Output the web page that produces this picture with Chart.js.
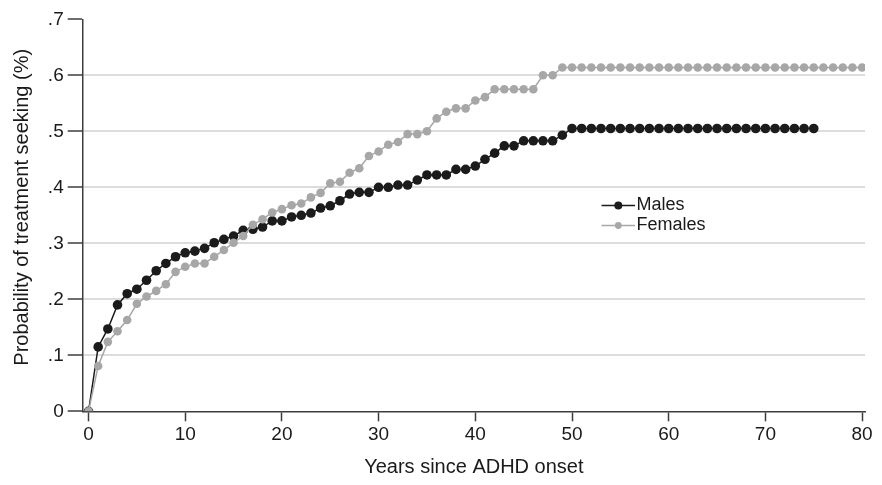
<!DOCTYPE html>
<html>
<head>
<meta charset="utf-8">
<script src="https://cdn.jsdelivr.net/npm/chart.js@4.4.1/dist/chart.umd.min.js"></script>
<style>
  html, body { margin: 0; padding: 0; background: #ffffff; }
  #wrap { width: 882px; height: 485px; position: relative; }
</style>
</head>
<body>
<div id="wrap"><canvas id="c" width="882" height="485"></canvas></div>
<script>
// ---- data ----
const years = [0,1,2,3,4,5,6,7,8,9,10,11,12,13,14,15,16,17,18,19,20,21,22,23,24,25,26,27,28,29,30,
  31,32,33,34,35,36,37,38,39,40,41,42,43,44,45,46,47,48,49,50,51,52,53,54,55,56,57,58,59,60,
  61,62,63,64,65,66,67,68,69,70,71,72,73,74,75,76,77,78,79,80];

const males = [0, .115, .147, .190, .210, .218, .234, .251, .264, .276, .283,
  .286, .291, .301, .307, .313, .323, .325, .329, .340, .340,
  .347, .350, .354, .363, .367, .376, .388, .391, .391, .400,
  .400, .404, .404, .413, .422, .422, .422, .432, .432, .438,
  .450, .461, .474, .474, .483, .483, .483, .483, .493, .505,
  .505, .505, .505, .505, .505, .505, .505, .505, .505, .505,
  .505, .505, .505, .505, .505, .505, .505, .505, .505, .505,
  .505, .505, .505, .505, .505];

const females = [0, .081, .124, .143, .163, .192, .205, .215, .227, .249, .258,
  .264, .264, .276, .288, .301, .313, .333, .343, .355, .361,
  .368, .371, .382, .390, .407, .410, .426, .434, .456, .464,
  .476, .481, .495, .495, .500, .523, .535, .541, .541, .555,
  .561, .575, .575, .575, .575, .575, .600, .600, .614, .614,
  .614, .614, .614, .614, .614, .614, .614, .614, .614, .614,
  .614, .614, .614, .614, .614, .614, .614, .614, .614, .614,
  .614, .614, .614, .614, .614, .614, .614, .614, .614, .614];

const seriesNames = ['Males', 'Females'];
const xTickValues = [0, 10, 20, 30, 40, 50, 60, 70, 80];
const xTickLabels = ['0', '10', '20', '30', '40', '50', '60', '70', '80'];
const yTickValues = [0, 0.1, 0.2, 0.3, 0.4, 0.5, 0.6, 0.7];
const yTickLabels = ['0', '.1', '.2', '.3', '.4', '.5', '.6', '.7'];
const xTitle = 'Years since ADHD onset';
const yTitle = 'Probability of treatment seeking (%)';

// ---- styles ----
const BLACK = '#1b1b1b';
const GREY = '#a7a7a7';
const AXIS = '#3c3c3c';
const GRID = '#dcdcdc';
const FONT = "'Liberation Sans', Arial, sans-serif";

const malePts = males.map((v, i) => ({ x: years[i], y: v }));
const femalePts = females.map((v, i) => ({ x: years[i], y: v }));

const legendPlugin = {
  id: 'inlineLegend',
  afterDraw(chart) {
    const ctx = chart.ctx;
    const items = [
      { ds: chart.data.datasets[1], y: 205.5 },
      { ds: chart.data.datasets[0], y: 225.5 }
    ];
    ctx.save();
    items.forEach(it => {
      const ds = it.ds;
      ctx.strokeStyle = ds.borderColor;
      ctx.lineWidth = 1.5;
      ctx.beginPath();
      ctx.moveTo(601.5, it.y);
      ctx.lineTo(635, it.y);
      ctx.stroke();
      ctx.fillStyle = ds.pointBackgroundColor;
      ctx.beginPath();
      ctx.arc(618.3, it.y, ds.label === 'Males' ? 4 : 3.4, 0, Math.PI * 2);
      ctx.fill();
      ctx.fillStyle = '#1a1a1a';
      ctx.font = '18px ' + FONT;
      ctx.textBaseline = 'middle';
      ctx.textAlign = 'left';
      ctx.fillText(ds.label, 636.5, it.y);
    });
    ctx.restore();
  }
};

// y-axis title drawn centred slightly above the plot middle, as in the reference
const yTitlePlugin = {
  id: 'yTitle',
  afterDraw(chart) {
    const ctx = chart.ctx;
    const area = chart.chartArea;
    ctx.save();
    ctx.translate(22, (area.top + area.bottom) / 2 - 8);
    ctx.rotate(-Math.PI / 2);
    ctx.fillStyle = '#1a1a1a';
    ctx.font = '20px ' + FONT;
    ctx.textAlign = 'center';
    ctx.textBaseline = 'middle';
    ctx.fillText(yTitle, 0, 0);
    ctx.restore();
  }
};

new Chart(document.getElementById('c'), {
  type: 'line',
  data: {
    datasets: [
      {
        label: seriesNames[1],
        data: femalePts,
        borderColor: GREY,
        backgroundColor: GREY,
        pointBackgroundColor: GREY,
        pointBorderColor: GREY,
        pointBorderWidth: 0,
        pointRadius: 4.3,
        borderWidth: 1.5,
        tension: 0,
        order: 0
      },
      {
        label: seriesNames[0],
        data: malePts,
        borderColor: BLACK,
        backgroundColor: BLACK,
        pointBackgroundColor: BLACK,
        pointBorderColor: BLACK,
        pointBorderWidth: 0,
        pointRadius: 4.8,
        borderWidth: 1.5,
        tension: 0,
        order: 1
      }
    ]
  },
  options: {
    responsive: false,
    animation: false,
    events: [],
    layout: { padding: { top: 19.3, right: 17, left: 0, bottom: 0 } },
    plugins: { legend: { display: false }, tooltip: { enabled: false } },
    scales: {
      x: {
        type: 'linear',
        min: -0.6,
        max: 80.3,
        afterBuildTicks: s => { s.ticks = xTickValues.map(v => ({ value: v })); },
        afterFit: s => { s.height = 73.7; },
        border: { display: true, color: AXIS, width: 1.5 },
        grid: { drawOnChartArea: false, drawTicks: true, tickLength: 10, tickColor: AXIS, tickWidth: 1.5 },
        ticks: {
          color: '#1a1a1a',
          font: { family: FONT, size: 19 },
          padding: 2,
          maxRotation: 0,
          autoSkip: false,
          callback: (v) => { const i = xTickValues.indexOf(v); return i >= 0 ? xTickLabels[i] : ''; }
        },
        title: {
          display: true, text: xTitle, color: '#1a1a1a',
          font: { family: FONT, size: 20 },
          padding: { top: 4, bottom: 6 }
        }
      },
      y: {
        type: 'linear',
        min: 0,
        max: 0.7,
        afterBuildTicks: s => { s.ticks = yTickValues.map(v => ({ value: v })); },
        afterFit: s => { s.width = 82.7; },
        border: { display: true, color: AXIS, width: 1.5 },
        grid: {
          drawOnChartArea: true,
          drawTicks: true,
          tickLength: 15,
          tickColor: AXIS,
          tickWidth: 1.5,
          lineWidth: 2,
          color: (c) => (c.tick && (c.tick.value === 0 || c.tick.value === 0.7)) ? 'rgba(0,0,0,0)' : GRID
        },
        ticks: {
          color: '#1a1a1a',
          font: { family: FONT, size: 19 },
          padding: 4,
          autoSkip: false,
          callback: (v) => { const i = yTickValues.indexOf(v); return i >= 0 ? yTickLabels[i] : ''; }
        },
        title: { display: false }
      }
    }
  },
  plugins: [legendPlugin, yTitlePlugin]
});
</script>
</body>
</html>
